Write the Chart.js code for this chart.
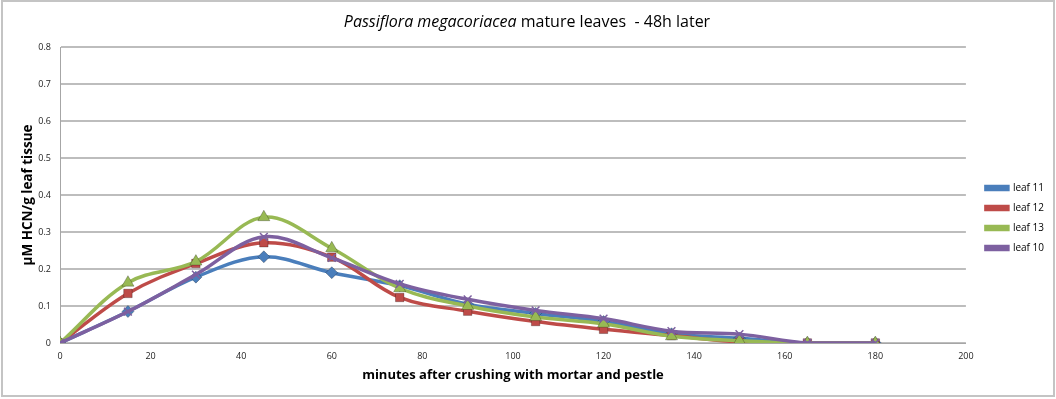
<!DOCTYPE html>
<html>
<head>
<meta charset="utf-8">
<script src="https://cdn.jsdelivr.net/npm/chart.js@4/dist/chart.umd.min.js"></script>
<style>
    body { margin: 0; background: #fff; }
    #wrap { position: relative; width: 1056px; height: 399px; }
</style>
</head>
<body>
<div id="wrap"><canvas id="hcnChart" width="1056" height="399"></canvas></div>
<script>
// minutes after crushing
const minutes = [0, 15, 30, 45, 60, 75, 90, 105, 120, 135, 150, 165, 180];

// µM HCN/g leaf tissue
const leaf11 = [0, 0.085, 0.178, 0.233, 0.19, 0.155, 0.105, 0.08, 0.058, 0.025, 0.013, 0, 0];
const leaf12 = [0, 0.134, 0.215, 0.271, 0.232, 0.123, 0.086, 0.058, 0.037, 0.02, 0.003, 0, 0];
const leaf13 = [0, 0.163, 0.22, 0.34, 0.256, 0.148, 0.1, 0.07, 0.052, 0.018, 0.006, 0, 0];
const leaf10 = [0, 0.085, 0.185, 0.287, 0.23, 0.16, 0.118, 0.088, 0.066, 0.032, 0.024, 0, 0];

const xTicks = [0, 20, 40, 60, 80, 100, 120, 140, 160, 180, 200];
const yTicks = [0, 0.1, 0.2, 0.3, 0.4, 0.5, 0.6, 0.7, 0.8];

const font = '"Open Sans", sans-serif';

function points(values) {
    return minutes.map((m, i) => ({ x: m, y: values[i] }));
}

function series(label, values, color, marker, radius, order) {
    return {
        label: label,
        data: points(values),
        showLine: true,
        borderColor: color,
        backgroundColor: color,
        borderWidth: 3.5,
        tension: 0.35,
        pointStyle: marker,
        pointRadius: radius,
        pointBorderWidth: marker === 'crossRot' ? 1.5 : 1,
        pointBorderColor: marker === 'crossRot' ? color : 'rgba(0,0,0,0.25)',
        pointBackgroundColor: color,
        order: order
    };
}

// frame round the whole picture, the mixed italic title, legend nudged right
const framePlugin = {
    id: 'frame',
    beforeDraw(chart) {
        const ctx = chart.ctx;
        ctx.save();
        ctx.fillStyle = '#fff';
        ctx.fillRect(0, 0, chart.width, chart.height);
        ctx.strokeStyle = '#c4c4c4';
        ctx.lineWidth = 2;
        ctx.strokeRect(2, 1, chart.width - 4, chart.height - 4);
        ctx.restore();

        if (chart.legend && !chart.legend._nudged) {
            chart.legend.left += 10;
            chart.legend.right += 10;
            chart.legend._nudged = true;
        }
    },
    afterUpdate(chart) {
        if (chart.legend) chart.legend._nudged = false;
    },
    afterDraw(chart) {
        const ctx = chart.ctx;
        const part1 = 'Passiflora megacoriacea';
        const part2 = ' mature leaves  - 48h later';
        ctx.save();
        ctx.fillStyle = '#000';
        ctx.textBaseline = 'middle';
        ctx.font = 'italic 16px ' + font;
        const w1 = ctx.measureText(part1).width;
        ctx.font = '16px ' + font;
        const w2 = ctx.measureText(part2).width;
        let x = 527 - (w1 + w2) / 2;
        ctx.font = 'italic 16px ' + font;
        ctx.fillText(part1, x, 22);
        ctx.font = '16px ' + font;
        ctx.fillText(part2, x + w1, 22);
        ctx.restore();
    }
};

const ctx = document.getElementById('hcnChart').getContext('2d');
new Chart(ctx, {
    type: 'scatter',
    data: {
        datasets: [
            series('leaf 11', leaf11, '#4a7ebb', 'rectRot', 6, 4),
            series('leaf 12', leaf12, '#be4b48', 'rect', 6, 3),
            series('leaf 13', leaf13, '#98b954', 'triangle', 7, 2),
            series('leaf 10', leaf10, '#7d60a0', 'crossRot', 5.5, 1)
        ]
    },
    options: {
        responsive: false,
        animation: false,
        layout: {
            padding: { left: 20, right: 12, top: 47, bottom: 10 }
        },
        plugins: {
            title: { display: false },
            tooltip: { enabled: false },
            legend: {
                position: 'right',
                labels: {
                    boxWidth: 22,
                    boxHeight: 3,
                    padding: 10,
                    color: '#000',
                    font: { family: font, size: 10 },
                    sort: (a, b) => a.datasetIndex - b.datasetIndex
                }
            }
        },
        scales: {
            x: {
                type: 'linear',
                min: 0,
                max: 200,
                afterBuildTicks: axis => { axis.ticks = xTicks.map(v => ({ value: v })); },
                afterFit: axis => { axis.height = 46; },
                grid: { display: false, drawTicks: true },
                border: { color: '#a6a6a6', width: 1 },
                ticks: {
                    color: '#222',
                    font: { family: font, size: 9 },
                    maxRotation: 0,
                    padding: 0
                },
                title: {
                    display: true,
                    text: 'minutes after crushing with mortar and pestle',
                    color: '#000',
                    font: { family: font, size: 13, weight: 'bold' },
                    padding: { top: 0, bottom: 6 }
                }
            },
            y: {
                min: 0,
                max: 0.8,
                afterBuildTicks: axis => { axis.ticks = yTicks.map(v => ({ value: v })); },
                afterFit: axis => { axis.width = 40; },
                grid: { color: '#bdbdbd', lineWidth: 2, drawTicks: false },
                border: { color: '#a6a6a6', width: 1 },
                ticks: {
                    color: '#222',
                    font: { family: font, size: 9 },
                    padding: 9,
                    callback: v => String(Math.round(v * 10) / 10)
                },
                title: {
                    display: true,
                    text: 'µM HCN/g leaf tissue',
                    color: '#000',
                    font: { family: font, size: 13.5, weight: 'bold' },
                    padding: { top: 0, bottom: 0 }
                }
            }
        }
    },
    plugins: [framePlugin]
});
</script>
</body>
</html>
